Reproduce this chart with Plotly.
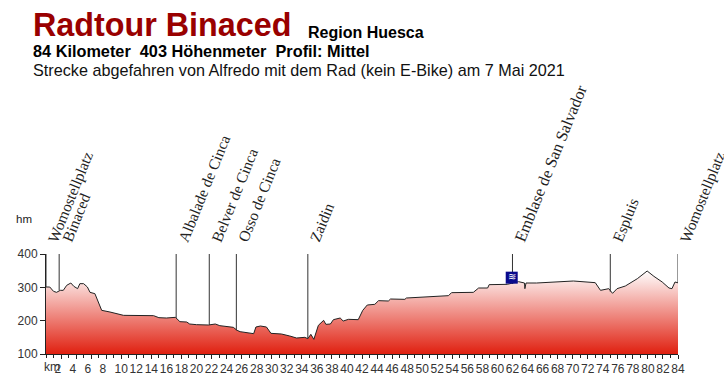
import plotly.graph_objects as go

km = [0,0.5,1.0,1.4,1.9,2.3,2.75,3.3,3.7,4.2,4.5,5,5.5,5.85,6.5,7,7.4,8.5,10.3,14.3,15,16,17.2,17.8,18.7,19.1,20,21.6,22.5,23.1,24.9,25.4,25.8,
      27.6,27.9,28.5,29.3,29.9,31.3,32.4,33.3,34.4,34.8,35.2,35.6,36.2,36.9,37.2,37.8,38.2,39.1,39.5,40.2,41.5,42.1,42.7,43.7,44.2,45.5,45.8,47.7,47.9,50.6,53.5,53.9,56.8,57.5,
      58.7,58.9,61.3,62.8,63.6,63.65,63.8,65.2,67.9,70.1,73,73.7,74.8,75.3,75.9,77,78.6,79.9,80.8,81.9,82.8,83.2,83.6,84.1]
elevation = [301,301,288,285,291,291,306,313,303,296,311,311,301,285,281,256,231,226,216,215,209,208,210,197,196,190,188,187,190,185,180,171,167,
      161,181,184,181,162,160,154,148,150,146,159,144,186,201,189,190,203,208,199,204,203,231,247,249,260,259,265,264,268,271,275,284,285,298,
      298,308,309,317,313,296,313,313,316,319,314,291,296,282,296,304,326,349,333,316,298,296,316,313]

stop_km = [0,1.75,17.3,21.7,25.3,34.8,62,75,84]
stop_base = [301,291,208,187,171,146,310,287,313]
stop_top = [400]*9
stop_names = ["Womostellplatz","Binaced","Albalade de Cinca","Belver de Cinca","Osso de Cinca","Zaidin","Emblase de San Salvador","Espluis","Womostellplatz"]
water_km = [61.9]
water_elev = [329]
end_km = [84.1,84.1]
end_elev = [100,313]
km_ticks = list(range(2,85,2))
y_ticks = [100,200,300,400]

x0,x1=46,677.7
y0,y1=353.7,253.7
W,H=724,378
fig = go.Figure()
fig.add_trace(go.Scatter(x=km,y=elevation,mode="lines",line=dict(color="#222222",width=1),fill="tozeroy",cliponaxis=False,
    fillgradient=dict(type="vertical",start=100,stop=350,colorscale=[[0,"#e02010"],[1,"#ffffff"]]),hoverinfo="skip"))
fig.add_trace(go.Scatter(x=end_km,y=end_elev,mode="lines",line=dict(color="#6fa8a8",width=1),cliponaxis=False))
for k,b,t in zip(stop_km,stop_base,stop_top):
    fig.add_trace(go.Scatter(x=[k,k],y=[b,t],mode="lines",line=dict(color="#333333",width=1),cliponaxis=False))
fig.add_trace(go.Scatter(x=water_km,y=water_elev,mode="markers+text",marker=dict(symbol="square",size=12,color="#0a0a8c"),text=["≋"],textposition="middle center",textfont=dict(color="white",size=10)))
for k,n in zip(stop_km,stop_names):
    fig.add_annotation(x=k,y=400,yref="y",xref="x",text=n,showarrow=False,textangle=-68,xanchor="left",yanchor="bottom",yshift=7,xshift=-3 if n=="Binaced" else -4,
        font=dict(family="Liberation Serif",size=16.4 if n.startswith("Emblase") else 15.4,color="#222"),align="left")
def text(x,y,t,size,color="#000",bold=False,family="Liberation Sans"):
    fig.add_annotation(x=(x-x0)/(x1-x0),y=(y0-y)/(y0-y1),xref="paper",yref="paper",text=f"<b>{t}</b>" if bold else t,showarrow=False,xanchor="left",yanchor="middle",font=dict(family=family,size=size,color=color))
text(31,25,"Radtour Binaced",32.3,"#990000",True)
text(306,32,"Region Huesca",16,"#000",True)
text(31,51,"84 Kilometer&nbsp;&nbsp;403 Höhenmeter&nbsp;&nbsp;Profil: Mittel",16.3,"#000",True)
text(31,70,"Strecke abgefahren von Alfredo mit dem Rad (kein E-Bike) am 7 Mai 2021",16.2,"#111")
text(14,219,"hm",11.5,"#222")
text(42,367,"km",12,"#333")
fig.update_layout(width=W,height=H,showlegend=False,plot_bgcolor="white",paper_bgcolor="white",
    margin=dict(l=x0,r=W-x1,t=y1,b=H-y0,autoexpand=False),
    xaxis=dict(range=[0,84],showgrid=False,zeroline=False,showline=True,linecolor="#222",ticks="outside",ticklen=4,tickcolor="#222",
        tickvals=km_ticks,ticktext=[f"{v}\u00a0\u00a0" if v<10 else str(v) for v in km_ticks],tickfont=dict(family="Liberation Sans",size=12,color="#333"),tickangle=0,
        minor=dict(ticks="outside",ticklen=3,dtick=1,tickcolor="#222")),
    yaxis=dict(range=[100,400],showgrid=False,zeroline=False,showline=True,linecolor="#222",ticks="outside",ticklen=5,tickcolor="#222",
        tickvals=y_ticks,tickfont=dict(family="Liberation Sans",size=12,color="#333")))
fig.write_html("out.html",post_script="document.body.style.margin='0';",config=dict(displayModeBar=False))
